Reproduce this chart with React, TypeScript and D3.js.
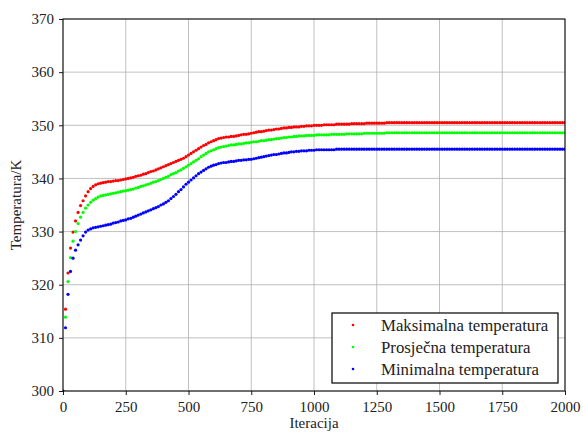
import React, { useRef, useEffect } from "react";
import * as d3 from "d3";

// temperature per iteration (every 10 iterations, 0..2000)
const iterations = d3.range(0, 2001, 10);

const maxTemp = [
  300.0, 315.4, 322.2, 326.9, 329.9, 332.0, 333.6, 334.9, 335.8, 336.7,
  337.5, 338.1, 338.5, 338.8, 339.0, 339.1, 339.2, 339.3, 339.4, 339.4,
  339.5, 339.6, 339.6, 339.7, 339.8, 339.9, 340.0, 340.1, 340.2, 340.4,
  340.5, 340.6, 340.8, 340.9, 341.1, 341.3, 341.4, 341.6, 341.8, 342.0,
  342.2, 342.4, 342.6, 342.8, 343.0, 343.2, 343.4, 343.6, 343.8, 344.1,
  344.4, 344.7, 345.0, 345.3, 345.6, 345.9, 346.2, 346.4, 346.7, 346.9,
  347.1, 347.3, 347.5, 347.6, 347.7, 347.8, 347.8, 347.9, 347.9, 348.0,
  348.1, 348.2, 348.3, 348.3, 348.4, 348.5, 348.6, 348.7, 348.8, 348.8,
  348.9, 349.0, 349.1, 349.1, 349.2, 349.3, 349.3, 349.4, 349.5, 349.5,
  349.6, 349.6, 349.7, 349.7, 349.7, 349.8, 349.8, 349.9, 349.9, 349.9,
  350.0, 350.0, 350.0, 350.0, 350.1, 350.1, 350.1, 350.1, 350.1, 350.2,
  350.2, 350.2, 350.2, 350.2, 350.2, 350.3, 350.3, 350.3, 350.3, 350.3,
  350.3, 350.4, 350.4, 350.4, 350.4, 350.4, 350.4, 350.4, 350.4, 350.5,
  350.5, 350.5, 350.5, 350.5, 350.5, 350.5, 350.5, 350.5, 350.5, 350.5,
  350.5, 350.5, 350.5, 350.5, 350.5, 350.5, 350.5, 350.5, 350.5, 350.5,
  350.5, 350.5, 350.5, 350.5, 350.5, 350.5, 350.5, 350.5, 350.5, 350.5,
  350.5, 350.5, 350.5, 350.5, 350.5, 350.5, 350.5, 350.5, 350.5, 350.5,
  350.5, 350.5, 350.5, 350.5, 350.5, 350.5, 350.5, 350.5, 350.5, 350.5,
  350.5, 350.5, 350.5, 350.5, 350.5, 350.5, 350.5, 350.5, 350.5, 350.5,
  350.5, 350.5, 350.5, 350.5, 350.5, 350.5, 350.5, 350.5, 350.5, 350.5,
  350.5,
];

const avgTemp = [
  300.0, 313.9, 320.6, 325.1, 328.2, 330.0, 331.5, 332.7, 333.6, 334.4,
  335.0, 335.5, 335.9, 336.2, 336.5, 336.7, 336.8, 336.9, 337.0, 337.1,
  337.2, 337.3, 337.4, 337.5, 337.6, 337.7, 337.8, 337.9, 338.0, 338.2,
  338.3, 338.5, 338.6, 338.8, 338.9, 339.1, 339.3, 339.4, 339.6, 339.8,
  340.0, 340.2, 340.4, 340.7, 340.9, 341.1, 341.4, 341.6, 341.9, 342.2,
  342.5, 342.8, 343.1, 343.4, 343.7, 344.1, 344.4, 344.7, 345.0, 345.2,
  345.4, 345.6, 345.8, 345.9, 346.0, 346.1, 346.2, 346.3, 346.3, 346.4,
  346.5, 346.5, 346.6, 346.7, 346.7, 346.8, 346.9, 346.9, 347.0, 347.1,
  347.1, 347.2, 347.3, 347.3, 347.4, 347.5, 347.5, 347.6, 347.7, 347.7,
  347.8, 347.8, 347.9, 347.9, 348.0, 348.0, 348.0, 348.1, 348.1, 348.1,
  348.1, 348.2, 348.2, 348.2, 348.2, 348.2, 348.2, 348.3, 348.3, 348.3,
  348.3, 348.3, 348.3, 348.4, 348.4, 348.4, 348.4, 348.4, 348.4, 348.4,
  348.5, 348.5, 348.5, 348.5, 348.5, 348.5, 348.5, 348.5, 348.5, 348.6,
  348.6, 348.6, 348.6, 348.6, 348.6, 348.6, 348.6, 348.6, 348.6, 348.6,
  348.6, 348.6, 348.6, 348.6, 348.6, 348.6, 348.6, 348.6, 348.6, 348.6,
  348.6, 348.6, 348.6, 348.6, 348.6, 348.6, 348.6, 348.6, 348.6, 348.6,
  348.6, 348.6, 348.6, 348.6, 348.6, 348.6, 348.6, 348.6, 348.6, 348.6,
  348.6, 348.6, 348.6, 348.6, 348.6, 348.6, 348.6, 348.6, 348.6, 348.6,
  348.6, 348.6, 348.6, 348.6, 348.6, 348.6, 348.6, 348.6, 348.6, 348.6,
  348.6, 348.6, 348.6, 348.6, 348.6, 348.6, 348.6, 348.6, 348.6, 348.6,
  348.6,
];

const minTemp = [
  300.0, 311.9, 318.2, 322.5, 325.0, 326.5, 327.5, 328.4, 329.2, 329.9,
  330.3, 330.5, 330.7, 330.8, 330.9, 331.0, 331.1, 331.2, 331.3, 331.4,
  331.6, 331.7, 331.8, 332.0, 332.1, 332.2, 332.4, 332.5, 332.7, 332.9,
  333.1, 333.3, 333.5, 333.7, 333.9, 334.1, 334.3, 334.5, 334.7, 335.0,
  335.2, 335.5, 335.8, 336.2, 336.6, 337.0, 337.5, 337.9, 338.4, 338.9,
  339.3, 339.7, 340.1, 340.5, 340.9, 341.2, 341.5, 341.8, 342.1, 342.3,
  342.5, 342.6, 342.8, 342.9, 343.0, 343.0, 343.1, 343.2, 343.2, 343.3,
  343.4, 343.4, 343.5, 343.5, 343.6, 343.6, 343.7, 343.8, 343.9, 344.0,
  344.1, 344.2, 344.3, 344.4, 344.5, 344.5, 344.6, 344.7, 344.8, 344.8,
  344.9, 345.0, 345.0, 345.1, 345.1, 345.2, 345.2, 345.2, 345.3, 345.3,
  345.3, 345.4, 345.4, 345.4, 345.4, 345.4, 345.4, 345.4, 345.4, 345.5,
  345.5, 345.5, 345.5, 345.5, 345.5, 345.5, 345.5, 345.5, 345.5, 345.5,
  345.5, 345.5, 345.5, 345.5, 345.5, 345.5, 345.5, 345.5, 345.5, 345.5,
  345.5, 345.5, 345.5, 345.5, 345.5, 345.5, 345.5, 345.5, 345.5, 345.5,
  345.5, 345.5, 345.5, 345.5, 345.5, 345.5, 345.5, 345.5, 345.5, 345.5,
  345.5, 345.5, 345.5, 345.5, 345.5, 345.5, 345.5, 345.5, 345.5, 345.5,
  345.5, 345.5, 345.5, 345.5, 345.5, 345.5, 345.5, 345.5, 345.5, 345.5,
  345.5, 345.5, 345.5, 345.5, 345.5, 345.5, 345.5, 345.5, 345.5, 345.5,
  345.5, 345.5, 345.5, 345.5, 345.5, 345.5, 345.5, 345.5, 345.5, 345.5,
  345.5, 345.5, 345.5, 345.5, 345.5, 345.5, 345.5, 345.5, 345.5, 345.5,
  345.5,
];

const seriesNames = ["Maksimalna temperatura", "Prosječna temperatura", "Minimalna temperatura"];
const seriesColors = ["#ff0000", "#00ff00", "#0000ff"];
const xTicks = [0, 250, 500, 750, 1000, 1250, 1500, 1750, 2000];
const yTicks = [300, 310, 320, 330, 340, 350, 360, 370];

const FONT = "'Liberation Serif', 'DejaVu Serif', serif";

function App() {
  const ref = useRef<SVGSVGElement>(null);

  useEffect(() => {
    const svg = d3.select(ref.current);
    svg.selectAll("*").remove();

    const width = 583, height = 432;
    const margin = { top: 19, right: 18, bottom: 41, left: 63 };
    const w = width - margin.left - margin.right;
    const h = height - margin.top - margin.bottom;

    const x = d3.scaleLinear().domain([0, 2000]).range([0, w]);
    const y = d3.scaleLinear().domain([300, 370]).range([h, 0]);

    const g = svg.append("g").attr("transform", `translate(${margin.left},${margin.top})`);

    // grid
    g.append("g")
      .selectAll("line")
      .data(xTicks)
      .join("line")
      .attr("x1", d => x(d)).attr("x2", d => x(d))
      .attr("y1", 0).attr("y2", h)
      .attr("stroke", "#b0b0b0").attr("stroke-width", 0.8);
    g.append("g")
      .selectAll("line")
      .data(yTicks)
      .join("line")
      .attr("x1", 0).attr("x2", w)
      .attr("y1", d => y(d)).attr("y2", d => y(d))
      .attr("stroke", "#b0b0b0").attr("stroke-width", 0.8);

    svg.append("defs").append("clipPath").attr("id", "plotclip")
      .append("rect").attr("width", w).attr("height", h);

    const series = [maxTemp, avgTemp, minTemp];
    const plot = g.append("g").attr("clip-path", "url(#plotclip)");
    series.forEach((vals, i) => {
      plot.append("g")
        .selectAll("circle")
        .data(iterations)
        .join("circle")
        .attr("cx", d => x(d))
        .attr("cy", (d, j) => y(vals[j]))
        .attr("r", 1.6)
        .attr("fill", seriesColors[i]);
    });

    // axes
    const xAxis = g.append("g")
      .attr("transform", `translate(0,${h})`)
      .call(d3.axisBottom(x).tickValues(xTicks).tickSize(4).tickPadding(6).tickFormat(d3.format("d")));
    const yAxis = g.append("g")
      .call(d3.axisLeft(y).tickValues(yTicks).tickSize(4).tickPadding(5).tickFormat(d3.format("d")));
    [xAxis, yAxis].forEach(a => {
      a.select(".domain").remove();
      a.selectAll("text").attr("font-family", FONT).attr("font-size", 15).attr("fill", "#222");
      a.selectAll("line").attr("stroke", "#000").attr("stroke-width", 0.9);
    });

    g.append("rect")
      .attr("width", w).attr("height", h)
      .attr("fill", "none").attr("stroke", "#000").attr("stroke-width", 1);

    // labels
    svg.append("text")
      .attr("x", margin.left + w / 2).attr("y", 428)
      .attr("text-anchor", "middle")
      .attr("font-family", FONT).attr("font-size", 15).attr("fill", "#222")
      .text("Iteracija");
    svg.append("text")
      .attr("transform", `translate(21,${margin.top + h / 2}) rotate(-90)`)
      .attr("text-anchor", "middle")
      .attr("font-family", FONT).attr("font-size", 15).attr("fill", "#222")
      .text("Temperatura/K");

    // legend
    const lg = svg.append("g").attr("transform", "translate(332,313)");
    lg.append("rect")
      .attr("width", 226).attr("height", 70)
      .attr("fill", "#fff").attr("stroke", "#000").attr("stroke-width", 1.2);
    seriesNames.forEach((name, i) => {
      const row = lg.append("g").attr("transform", `translate(0,${12 + i * 22})`);
      row.append("circle").attr("cx", 21).attr("cy", 0).attr("r", 1.3).attr("fill", seriesColors[i]);
      row.append("text")
        .attr("x", 49).attr("y", 5.5)
        .attr("font-family", FONT).attr("font-size", 16.8).attr("fill", "#222")
        .text(name);
    });
  }, []);

  return (
    <svg ref={ref} width={583} height={432} style={{ position: "absolute", left: 0, top: 0, background: "#fff" }} />
  );
}

export default App;
